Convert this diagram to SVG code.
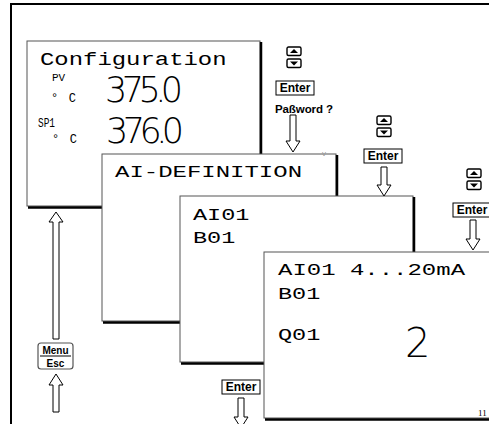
<svg xmlns="http://www.w3.org/2000/svg" width="489" height="424" viewBox="0 0 489 424">
<defs>
<style>
.lcd{font-family:"Liberation Mono","DejaVu Sans Mono",monospace;fill:#000}
.seg{font-family:"DejaVu Sans","Liberation Sans",sans-serif;font-weight:200;fill:#000}
.key{font-family:"Liberation Sans",Arial,sans-serif;font-weight:bold;fill:#000}
.scr{fill:#fff;stroke:#555;stroke-width:1}
.sh{fill:none;stroke:#000;stroke-width:2.5}
.kb{fill:#fff;stroke:#000;stroke-width:1.4}
.eb{fill:#fff;stroke:#000;stroke-width:1}
.arr{fill:#fff;stroke:#000;stroke-width:1}
</style>
<g id="updown">
<rect class="kb" x="-7" y="0" width="14" height="8.5" rx="1.5"/>
<polygon points="-4,6 4,6 0,2" fill="#000"/>
<rect class="kb" x="-7" y="12" width="14" height="8.5" rx="1.5"/>
<polygon points="-4,14.5 4,14.5 0,18.5" fill="#000"/>
</g>
<g id="enter">
<rect class="eb" x="-19" y="0" width="38" height="14"/>
<text class="key" x="0" y="11.2" font-size="12" text-anchor="middle">Enter</text>
</g>
</defs>
<rect width="489" height="424" fill="#fff"/>
<rect x="11" y="4" width="600" height="600" fill="none" stroke="#000" stroke-width="2"/>

<g id="screen1">
<rect class="scr" x="27" y="41" width="233" height="165"/>
<path class="sh" d="M261,42 V207.5 H28"/>
<text class="lcd" font-size="18" transform="translate(40,65) scale(1.33,1)">Configuration</text>
<text class="lcd" x="52" y="81" font-size="11">PV</text>
<text class="lcd" x="51" y="102" font-size="12" textLength="25">°C</text>
<text class="seg" x="105" y="102" font-size="35" textLength="78">375.0</text>
<text class="lcd" x="38" y="127" font-size="12" textLength="17" lengthAdjust="spacingAndGlyphs">SP1</text>
<text class="lcd" x="52" y="143" font-size="12" textLength="25">°C</text>
<text class="seg" x="106" y="143" font-size="35" textLength="78">376.0</text>
</g>

<g id="screen2">
<rect class="scr" x="102" y="154" width="234" height="167"/>
<path class="sh" d="M337,155 V322.5 H103"/>
<text class="lcd" font-size="16" transform="translate(115,177) scale(1.5,1)">AI-DEFINITION</text>
</g>
<text x="322" y="156" font-family="Liberation Sans,sans-serif" font-size="8" fill="#999">v</text>

<g id="screen3">
<rect class="scr" x="180" y="196" width="233" height="166"/>
<path class="sh" d="M414,197 V363.5 H181"/>
<text class="lcd" font-size="16" transform="translate(193,220) scale(1.47,1)">AI01</text>
<text class="lcd" font-size="16" transform="translate(193,243) scale(1.47,1)">B01</text>
</g>

<g id="screen4">
<rect class="scr" x="264" y="252" width="240" height="166"/>
<path class="sh" d="M505,253 V419.5 H265"/>
<text class="lcd" font-size="16" transform="translate(278,275) scale(1.5,1)">AI01 4...20mA</text>
<text class="lcd" font-size="16" transform="translate(278,299) scale(1.47,1)">B01</text>
<text class="lcd" font-size="16" transform="translate(278,340) scale(1.47,1)">Q01</text>
<text class="seg" x="405" y="357" font-size="40" textLength="18">2</text>
<text x="478" y="416" font-family="Liberation Serif,serif" font-size="9" fill="#000">11</text>
</g>

<g id="keys1">
<use href="#updown" x="294" y="47"/>
<use href="#enter" x="295" y="81"/>
<text class="key" x="275" y="113" font-size="11.5" textLength="58">Paßword ?</text>
</g>
<g id="keys2">
<use href="#updown" x="384" y="116"/>
<use href="#enter" x="383" y="149"/>
</g>
<g id="keys3">
<use href="#updown" x="474" y="169"/>
<use href="#enter" x="472" y="203"/>
</g>
<g id="keys4">
<use href="#enter" x="241" y="380"/>
</g>
<g id="menukey">
<rect x="38" y="343" width="35" height="26" rx="3" fill="#fff" stroke="#555" stroke-width="1.2"/>
<line x1="40" y1="356" x2="71" y2="356" stroke="#000" stroke-width="1"/>
<text class="key" x="55.5" y="354" font-size="10" text-anchor="middle">Menu</text>
<text class="key" x="55.5" y="367" font-size="10" text-anchor="middle">Esc</text>
</g>

<g id="connectors">
<path class="arr" d="M290,115 H296 V141 H300 L293,152 L286,141 H290 Z"/>
<path class="arr" d="M381,167 H387 V185 H391 L384,196 L377,185 H381 Z"/>
<path class="arr" d="M470,220 H476 V239 H480 L473,250 L466,239 H470 Z"/>
<path class="arr" d="M238,398 H244 V417 H248 L241,428 L234,417 H238 Z"/>
<path class="arr" d="M53,339 H59 V222 H63 L56,212 L49,222 H53 Z"/>
<path class="arr" d="M53,412 H59 V385 H63 L56,374 L49,385 H53 Z"/>
</g>
</svg>
